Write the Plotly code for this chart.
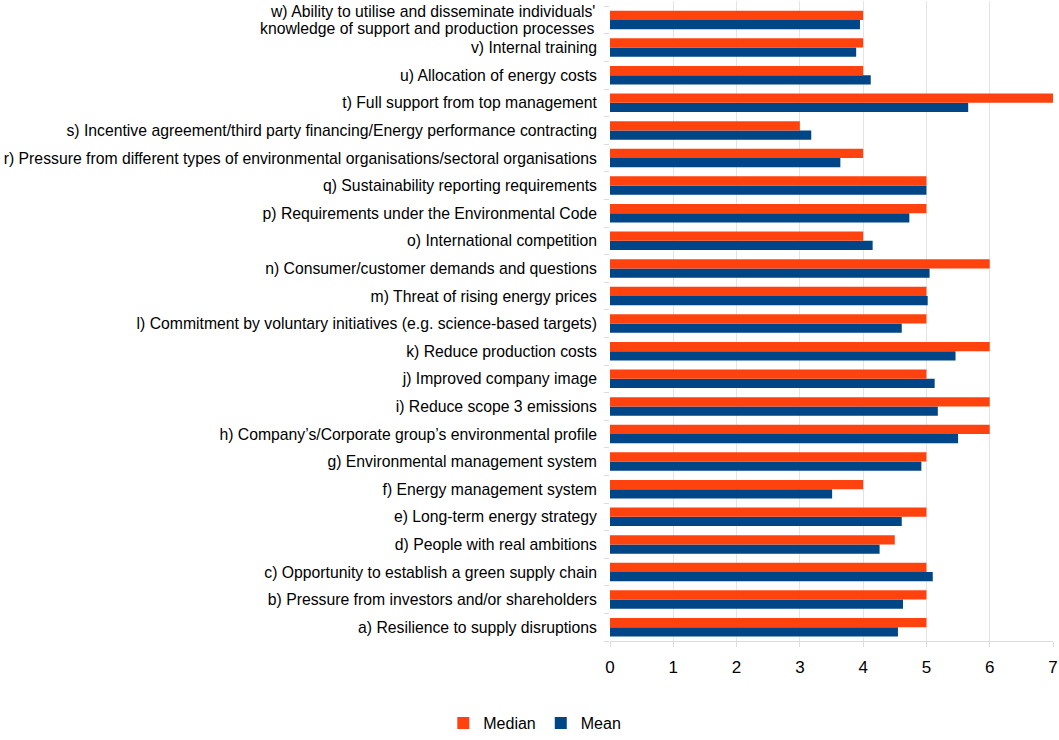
import plotly.graph_objects as go

# categories from bottom (a) to top (w)
categories = [
    "a) Resilience to supply disruptions",
    "b) Pressure from investors and/or shareholders",
    "c) Opportunity to establish a green supply chain",
    "d) People with real ambitions",
    "e) Long-term energy strategy",
    "f) Energy management system",
    "g) Environmental management system",
    "h) Company’s/Corporate group’s environmental profile",
    "i) Reduce scope 3 emissions",
    "j) Improved company image",
    "k) Reduce production costs",
    "l) Commitment by voluntary initiatives (e.g. science-based targets)",
    "m) Threat of rising energy prices",
    "n) Consumer/customer demands and questions",
    "o) International competition",
    "p) Requirements under the Environmental Code",
    "q) Sustainability reporting requirements",
    "r) Pressure from different types of environmental organisations/sectoral organisations",
    "s) Incentive agreement/third party financing/Energy performance contracting",
    "t) Full support from top management",
    "u) Allocation of energy costs",
    "v) Internal training",
    "w) Ability to utilise and disseminate individuals'<br>knowledge of support and production processes",
]

median = [5, 5, 5, 4.5, 5, 4, 5, 6, 6, 5, 6, 5, 5, 6, 4, 5, 5, 4, 3, 7, 4, 4, 4]
mean = [4.55, 4.63, 5.10, 4.26, 4.61, 3.51, 4.92, 5.50, 5.18, 5.13, 5.46, 4.61,
        5.02, 5.05, 4.15, 4.73, 5.00, 3.64, 3.18, 5.66, 4.12, 3.89, 3.95]

fig = go.Figure()
# Mean added first so it sits below Median within each group
fig.add_bar(y=categories, x=mean, orientation="h", name="Mean",
            marker=dict(color="#004586", line=dict(width=0)))
fig.add_bar(y=categories, x=median, orientation="h", name="Median",
            marker=dict(color="#ff420e", line=dict(width=0)))

# two-line labels get tighter line spacing than plotly's tick text allows,
# so draw them as annotations and leave the tick text blank
ticktext = []
for c in categories:
    if "<br>" in c:
        lines = c.split("<br>")
        ticktext.append("")
        for i, line in enumerate(lines):
            fig.add_annotation(x=0, xref="paper", y=c, yref="y", text=line,
                               showarrow=False, xanchor="right", yanchor="middle",
                               xshift=-13, yshift=(len(lines) - 1) / 2 * 17 - i * 17,
                               font=dict(size=15.75))
    else:
        ticktext.append(c)

fig.update_layout(
    width=1059, height=740,
    margin=dict(l=610, r=6, t=1, b=99),
    barmode="group", bargap=0.33, bargroupgap=0,
    plot_bgcolor="white", paper_bgcolor="white",
    font=dict(family="Liberation Sans, Arial, sans-serif", size=15.75, color="black"),
    showlegend=True,
    legend=dict(orientation="h", traceorder="reversed",
                xref="container", x=0.505, xanchor="center",
                yref="container", y=-0.014, yanchor="bottom",
                font=dict(size=16), itemwidth=30),
    xaxis=dict(range=[0, 7], dtick=1, showgrid=True, gridcolor="#e4e4e4",
               zeroline=False, showline=True, linecolor="#dcdcdc",
               ticks="outside", ticklen=5, tickcolor="#dcdcdc",
               tickfont=dict(size=17), ticklabelstandoff=6, automargin=False),
    yaxis=dict(type="category", tickson="boundaries", ticks="outside",
               ticklen=5, tickcolor="#dcdcdc", showgrid=False,
               showline=False, zeroline=False, ticklabelstandoff=12,
               tickvals=categories, ticktext=ticktext, automargin=False),
)

# drop the browser's default body margin so the figure sits at the page corner
fig.write_html("out.html", config={"displayModeBar": False},
               post_script="document.body.style.margin='0';document.body.style.overflow='hidden';")
